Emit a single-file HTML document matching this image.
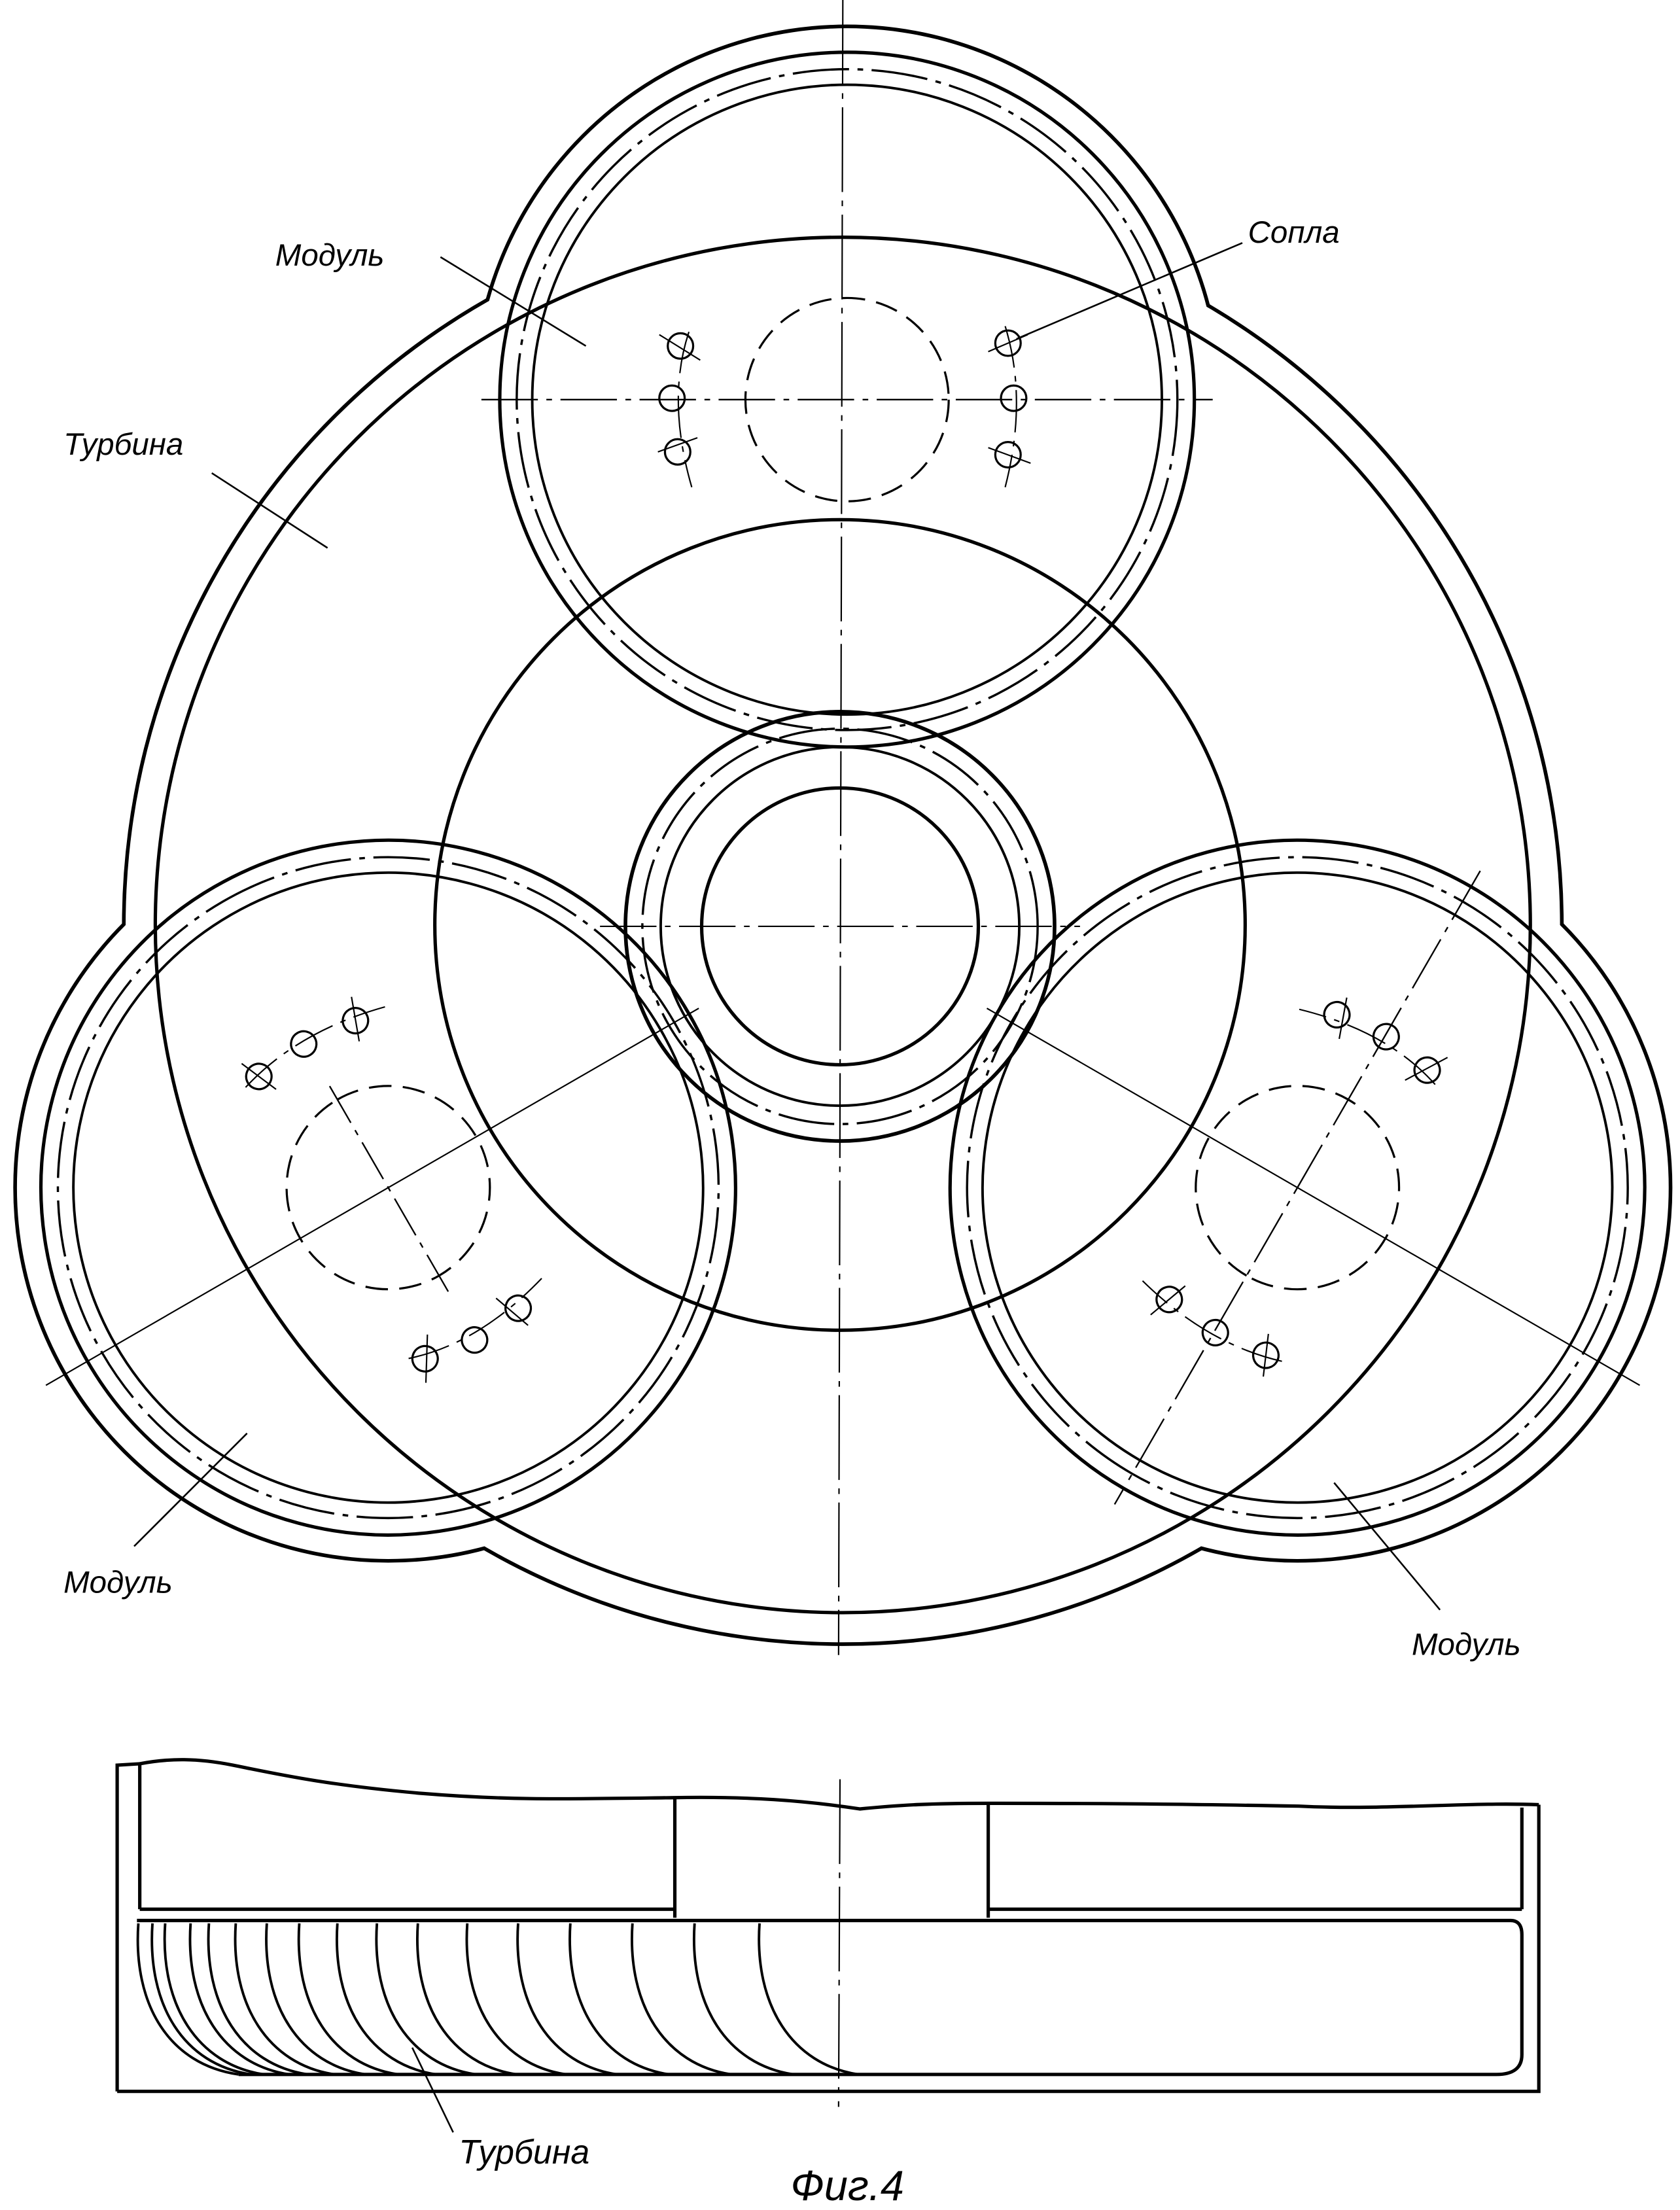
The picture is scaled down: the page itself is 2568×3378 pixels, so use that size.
<!DOCTYPE html>
<html><head><meta charset="utf-8"><style>
html,body{margin:0;padding:0;background:#fff;}
svg{display:block;}
text{font-family:"Liberation Sans",sans-serif;font-style:italic;fill:#000;}
</style></head><body>
<svg width="2568" height="3378" viewBox="0 0 1190 1565" preserveAspectRatio="none" xmlns="http://www.w3.org/2000/svg">
<defs>
<g id="mod">
  <circle r="246" fill="none" stroke="#000" stroke-width="2.4"/>
  <circle r="234" fill="none" stroke="#000" stroke-width="1.6" stroke-dasharray="40 6 4 6"/>
  <circle r="223" fill="none" stroke="#000" stroke-width="1.8"/>
  <circle r="72" fill="none" stroke="#000" stroke-width="1.5" stroke-dasharray="16 8"/>
  <g fill="none" stroke="#000" stroke-width="1.5">
    <path d="M-112,-48 Q-128,0 -110,62" stroke-width="1" stroke-dasharray="30 6 4 6"/>
    <circle cx="-118" cy="-38" r="9"/><circle cx="-124" cy="-1" r="9"/><circle cx="-120" cy="37" r="9"/>
    <line x1="-133" y1="-46" x2="-104" y2="-28" stroke-width="1"/>
    <line x1="-134" y1="37" x2="-106" y2="27" stroke-width="1"/>
    <path d="M112,-52 Q128,0 112,62" stroke-width="1" stroke-dasharray="30 6 4 6"/>
    <circle cx="114" cy="-40" r="9"/><circle cx="118" cy="-1" r="9"/><circle cx="114" cy="39" r="9"/>
    <line x1="100" y1="-34" x2="128" y2="-46" stroke-width="1"/>
    <line x1="100" y1="34" x2="130" y2="45" stroke-width="1"/>
  </g>
</g>
</defs>

<g stroke="#000" stroke-width="5.2" fill="none">
  <circle cx="597" cy="655" r="508"/>
  <circle cx="600" cy="283" r="263"/>
  <circle cx="275" cy="841" r="263"/>
  <circle cx="919" cy="841" r="263"/>
</g>
<g fill="#fff" stroke="none">
  <circle cx="597" cy="655" r="508"/>
  <circle cx="600" cy="283" r="263"/>
  <circle cx="275" cy="841" r="263"/>
  <circle cx="919" cy="841" r="263"/>
</g>

<circle cx="597" cy="655" r="487" fill="none" stroke="#000" stroke-width="2.4"/>
<circle cx="595" cy="655" r="287" fill="none" stroke="#000" stroke-width="2.4"/>

<g fill="none" stroke="#000">
  <circle cx="595" cy="656" r="152" stroke-width="2.6"/>
  <circle cx="595" cy="656" r="140" stroke-width="1.6" stroke-dasharray="40 6 4 6"/>
  <circle cx="595" cy="656" r="127" stroke-width="1.8"/>
  <circle cx="595" cy="656" r="98" stroke-width="2.4"/>
</g>
<line x1="425" y1="656" x2="765" y2="656" stroke="#000" stroke-width="1" stroke-dasharray="40 6 4 6"/>

<g transform="translate(600,283)">
  <use href="#mod"/>
  <line x1="-259" y1="0" x2="259" y2="0" stroke="#000" stroke-width="1.1" stroke-dasharray="40 6 4 6"/>
</g>
<g transform="translate(275,841) rotate(-120)">
  <use href="#mod"/>
  <line x1="-85" y1="0" x2="85" y2="0" stroke="#000" stroke-width="1.1" stroke-dasharray="30 6 4 6"/>
  <line x1="0" y1="-280" x2="0" y2="254" stroke="#000" stroke-width="1"/>
</g>
<g transform="translate(919,841) rotate(120)">
  <use href="#mod"/>
  <line x1="-259" y1="0" x2="259" y2="0" stroke="#000" stroke-width="1.1" stroke-dasharray="40 6 4 6"/>
  <line x1="0" y1="-280" x2="0" y2="254" stroke="#000" stroke-width="1"/>
</g>
<line x1="597" y1="0" x2="594" y2="1172" stroke="#000" stroke-width="1" stroke-dasharray="60 6 4 6"/>

<g stroke="#000" stroke-width="1.2">
  <line x1="312" y1="182" x2="415" y2="245"/>
  <line x1="880" y1="172" x2="720" y2="240"/>
  <line x1="150" y1="335" x2="232" y2="388"/>
  <line x1="95" y1="1095" x2="175" y2="1015"/>
  <line x1="1020" y1="1140" x2="945" y2="1050"/>
  <line x1="292" y1="1450" x2="321" y2="1510"/>
</g>
<text x="195" y="188" font-size="22">Модуль</text>
<text x="884" y="172" font-size="22">Сопла</text>
<text x="45" y="322" font-size="22">Турбина</text>
<text x="45" y="1128" font-size="22">Модуль</text>
<text x="1000" y="1172" font-size="22">Модуль</text>

<g fill="none" stroke="#000" stroke-width="2.4">
  <path d="M83,1481 L83,1250 L99,1249"/>
  <line x1="99" y1="1249" x2="99" y2="1352"/>
  <path d="M99,1249 C120,1245 140,1245 165,1250 C195,1256 230,1264 299,1270 C360,1275 400,1274 477,1273 C530,1272 570,1275 609,1281 C640,1278 660,1277 700,1277 C800,1277 860,1278 920,1279 C980,1282 1040,1276 1090,1278"/>
  <line x1="478" y1="1273" x2="478" y2="1358"/>
  <line x1="700" y1="1277" x2="700" y2="1358"/>
  <line x1="99" y1="1352" x2="478" y2="1352"/>
  <line x1="700" y1="1352" x2="1078" y2="1352"/>
  <line x1="1078" y1="1280" x2="1078" y2="1352"/>
  <path d="M1090,1278 L1090,1481 L83,1481"/>
  <path d="M97,1360 L1070,1360 Q1078,1360 1078,1370 L1078,1455 Q1078,1469 1060,1469 L169,1469"/>
  <g stroke-width="1.8">
    <path d="M98,1362 C94,1420 120,1462 169,1469"/>
    <path d="M108,1362 C104,1420 130,1462 178,1469"/>
    <path d="M117,1362 C113,1420 140,1462 187,1469"/>
    <path d="M135,1362 C131,1420 158,1462 205,1469"/>
    <path d="M148,1362 C144,1420 171,1462 218,1469"/>
    <path d="M167,1362 C163,1420 190,1462 237,1469"/>
    <path d="M189,1362 C185,1420 212,1462 259,1469"/>
    <path d="M212,1362 C208,1420 235,1462 282,1469"/>
    <path d="M239,1362 C235,1420 262,1462 309,1469"/>
    <path d="M267,1362 C263,1420 290,1462 337,1469"/>
    <path d="M296,1362 C292,1420 319,1462 366,1469"/>
    <path d="M331,1362 C327,1420 354,1462 401,1469"/>
    <path d="M367,1362 C363,1420 390,1462 437,1469"/>
    <path d="M404,1362 C400,1420 427,1462 474,1469"/>
    <path d="M448,1362 C444,1420 471,1462 518,1469"/>
    <path d="M492,1362 C488,1420 515,1462 562,1469"/>
    <path d="M538,1362 C534,1420 561,1462 608,1469"/>
  </g>
</g>
<line x1="595" y1="1260" x2="594" y2="1492" stroke="#000" stroke-width="1" stroke-dasharray="60 6 4 6"/>
<text x="325" y="1532" font-size="24">Турбина</text>
<text x="560" y="1558" font-size="30">Фиг.4</text>
</svg>
</body></html>
